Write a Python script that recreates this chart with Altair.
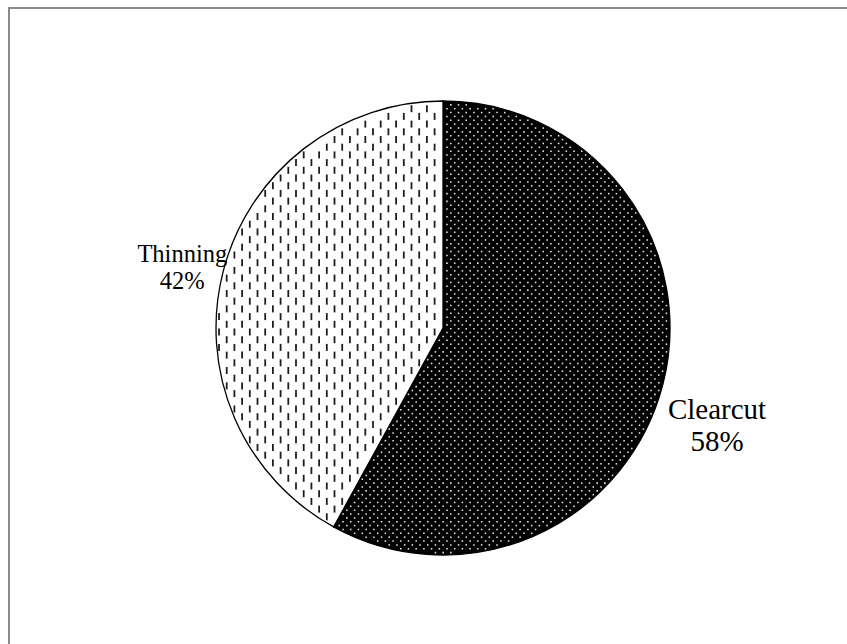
import math

import altair as alt
import pandas as pd

# Harvest type shares (%)
categories = ["Clearcut", "Thinning"]
shares = [58, 42]
stack_rank = [0, 1]

# Pie geometry (pixels)
CX, CY, R = 443, 328, 227
FONT = "Liberation Serif"

total = sum(shares)
cut = 2 * math.pi * shares[0] / total  # boundary between the two slices, clockwise from 12 o'clock
cos_c, sin_c = math.cos(cut), math.sin(cut)

pie = pd.DataFrame({"category": categories, "share": shares, "rank": stack_rank})

theta = alt.Theta("share:Q", stack=True)
order = alt.Order("rank:Q")
cx, cy = alt.value(CX), alt.value(CY)

slices = alt.Chart(pie).mark_arc(radius=R, stroke="black", strokeWidth=1.3).encode(
    theta=theta,
    order=order,
    color=alt.Color(
        "category:N",
        scale=alt.Scale(domain=categories, range=["#000000", "#ffffff"]),
        legend=None,
    ),
    x=cx,
    y=cy,
)

# ---- fill textures (dotted for Clearcut, dashed verticals for Thinning) ----
DOT_DX, DOT_DY = 7.7, 3.86
dot_cols = int(2 * R / DOT_DX) + 3
dot_rows = int(2 * R / DOT_DY) + 3

dots = (
    alt.Chart(alt.sequence(0, dot_cols * dot_rows, as_="i"))
    .transform_calculate(
        row=f"floor(datum.i / {dot_cols})",
        col=f"datum.i % {dot_cols}",
    )
    .transform_calculate(
        px=f"{CX - R} + datum.col * {DOT_DX} + (datum.row % 2) * {DOT_DX / 2}",
        py=f"{CY - R} + datum.row * {DOT_DY}",
    )
    .transform_calculate(rx=f"datum.px - {CX}", ry=f"datum.py - {CY}")
    .transform_calculate(d=f"datum.rx * {cos_c} + datum.ry * {sin_c}")
    .transform_filter(
        f"datum.rx * datum.rx + datum.ry * datum.ry < {(R - 2) ** 2}"
        f" && (datum.rx > 1.5 || datum.d < -1.5)"
    )
    .mark_square(size=2.4, color="#e6e6e6", opacity=1)
    .encode(
        x=alt.X("px:Q", scale=None, axis=None),
        y=alt.Y("py:Q", scale=None, axis=None),
    )
)

DASH_DX, DASH_PERIOD, DASH_HALF = 7.7, 15.4, 3.5
dash_cols = int(2 * R / DASH_DX) + 3
dash_rows = int(2 * R / DASH_PERIOD) + 3

dashes = (
    alt.Chart(alt.sequence(0, dash_cols * dash_rows, as_="i"))
    .transform_calculate(
        row=f"floor(datum.i / {dash_cols})",
        col=f"datum.i % {dash_cols}",
    )
    .transform_calculate(
        px=f"{CX - R + 3} + datum.col * {DASH_DX}",
        py=f"{CY - R} + datum.row * {DASH_PERIOD} + (datum.col % 2) * {DASH_PERIOD / 2}",
    )
    .transform_calculate(
        rx=f"datum.px - {CX}",
        ry=f"datum.py - {CY}",
        y_top=f"datum.py - {DASH_HALF}",
        y_bot=f"datum.py + {DASH_HALF}",
    )
    .transform_calculate(
        d_top=f"datum.rx * {cos_c} + (datum.ry - {DASH_HALF}) * {sin_c}",
        d_bot=f"datum.rx * {cos_c} + (datum.ry + {DASH_HALF}) * {sin_c}",
        r_far=f"sqrt(datum.rx * datum.rx + pow(abs(datum.ry) + {DASH_HALF}, 2))",
    )
    .transform_filter(
        f"datum.r_far < {R - 1.5} && datum.rx < -2 && datum.d_top > 1.8 && datum.d_bot > 1.8"
    )
    .mark_rule(color="#1e1e1e", strokeWidth=1.8)
    .encode(
        x=alt.X("px:Q", scale=None, axis=None),
        y=alt.Y("y_top:Q", scale=None, axis=None),
        y2="y_bot:Q",
    )
)

# ---- slice labels ----
label_base = alt.Chart(pie).transform_calculate(
    label="datum.category + '\\n' + datum.share + '%'"
)


def slice_label(name, radius, size, line_height, dx=0, dy=0):
    return (
        label_base.transform_calculate(
            txt=f"datum.category == '{name}' ? datum.label : ''"
        )
        .mark_text(
            radius=radius,
            dx=dx,
            dy=dy,
            font=FONT,
            fontSize=size,
            lineBreak="\n",
            lineHeight=line_height,
            align="center",
            baseline="middle",
            color="black",
        )
        .encode(theta=theta, order=order, x=cx, y=cy, text="txt:N")
    )


clear_label = slice_label("Clearcut", 285, 29, 32, dx=-2, dy=11)
thin_label = slice_label("Thinning", 265, 24.5, 27, dx=-4, dy=-7)

# chart frame
frame = alt.Chart(pie).mark_rect(
    filled=False, stroke="#8a8a8a", strokeWidth=2
).encode(
    x=alt.value(9), y=alt.value(8), x2=alt.value(900), y2=alt.value(700)
)

chart = (
    alt.layer(slices, dots, dashes, clear_label, thin_label, frame)
    .properties(
        width=847,
        height=644,
        background="white",
        padding=0,
        autosize=alt.AutoSizeParams(type="none"),
    )
    .configure_view(stroke=None)
)

chart.save("out.html", embed_options={"renderer": "svg", "actions": False})
